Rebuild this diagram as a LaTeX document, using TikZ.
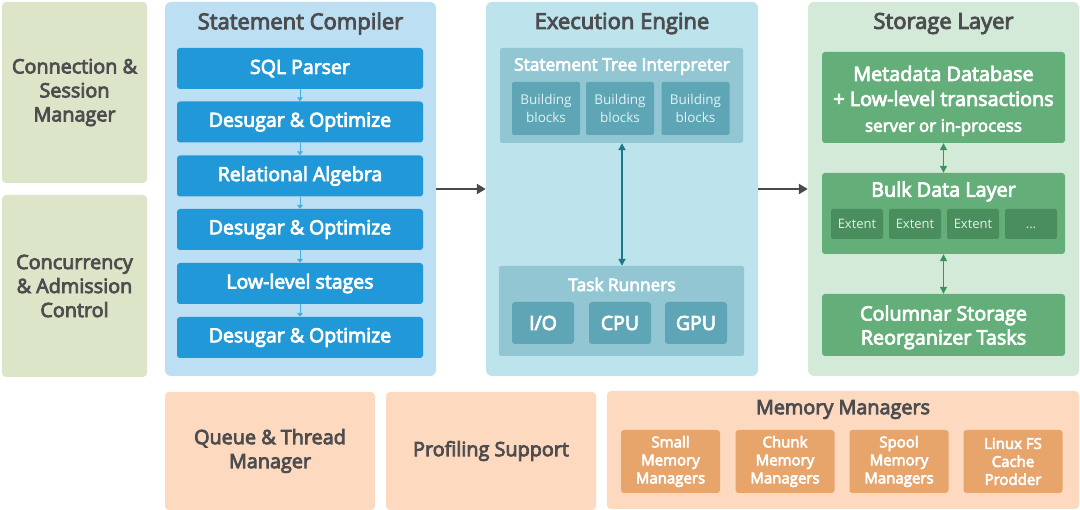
\documentclass[tikz,border=0pt]{standalone}
\usepackage{fontspec}
\setmainfont{Open Sans}
\newfontfamily\semi{Open Sans}[FakeBold=4]
\usepackage{tikz}
\usetikzlibrary{arrows.meta}
\usetikzlibrary{positioning}

\definecolor{sage}{HTML}{DCE5C7}
\definecolor{txtgrey}{HTML}{4D4D50}
\definecolor{compbg}{HTML}{BDDFF3}
\definecolor{compbox}{HTML}{2199D8}
\definecolor{compline}{HTML}{4AAEE3}
\definecolor{execbg}{HTML}{BDE3EC}
\definecolor{execmid}{HTML}{93C6D3}
\definecolor{execdark}{HTML}{5EA6B5}
\definecolor{exectext}{HTML}{E3F1F5}
\definecolor{execarrow}{HTML}{1B778C}
\definecolor{storbg}{HTML}{D3EAD9}
\definecolor{storbox}{HTML}{64AF79}
\definecolor{stordark}{HTML}{4A8E5D}
\definecolor{stortext}{HTML}{E4F0E7}
\definecolor{storarrow}{HTML}{379653}
\definecolor{peach}{HTML}{FDD9BF}
\definecolor{peachdark}{HTML}{E8A56B}
\definecolor{arrowgrey}{HTML}{4A4A4E}

\begin{document}
\begin{tikzpicture}[x=1pt,y=-1pt,
  sidebox/.style={fill=sage, rounded corners=4pt, inner sep=0pt, minimum width=145, text=txtgrey, align=center, font=\semi\fontsize{19.8}{24}\selectfont},
  layer/.style={rounded corners=6pt, inner sep=0pt, minimum height=374},
  layertitle/.style={text=txtgrey, font=\semi\fontsize{22}{26}\selectfont},
  stage/.style={fill=compbox, rounded corners=3pt, inner sep=0pt, minimum width=246, minimum height=41, text=white, font=\semi\fontsize{19.5}{22}\selectfont},
  stagearrow/.style={draw=compline, line width=1pt, -{Triangle[length=4pt,width=6pt]}},
  group/.style={inner sep=0pt, rounded corners=2pt},
  grouptitle/.style={text=white, font=\semi\fontsize{17.3}{20}\selectfont},
  block/.style={fill=execdark, rounded corners=2pt, inner sep=0pt, minimum width=68, minimum height=53, text=exectext, align=center, font=\fontsize{13.5}{18}\selectfont},
  runner/.style={fill=execdark, rounded corners=3pt, inner sep=0pt, minimum width=62, minimum height=42, text=white, font=\semi\fontsize{19.5}{22}\selectfont},
  storebox/.style={fill=storbox, rounded corners=3pt, inner sep=0pt, minimum width=243, text=white, align=center, font=\semi\fontsize{19.8}{24}\selectfont},
  extent/.style={fill=stordark, rounded corners=2pt, inner sep=0pt, minimum width=52, minimum height=30, text height=9pt, text depth=0pt, text=stortext, font=\fontsize{13}{16}\selectfont},
  bottombox/.style={fill=peach, rounded corners=4pt, inner sep=0pt, minimum height=118, text=txtgrey, align=center, font=\semi\fontsize{19.8}{24}\selectfont},
  memory/.style={fill=peachdark, rounded corners=3pt, inner sep=0pt, minimum width=99, minimum height=63, text=white, align=center, font=\semi\fontsize{15}{18}\selectfont},
  flow/.style={draw=arrowgrey, line width=2.5pt, -{Triangle[length=9pt,width=10pt]}},
  twoway/.style={line width=#1, {Triangle[length=7pt,width=7pt]}-{Triangle[length=7pt,width=7pt]}}]
\useasboundingbox (0,0) rectangle (1080,510);

% left column
\node[sidebox, minimum height=181] at (74.5,92.5) (conn) {Connection \&\\Session\\Manager};
\node[sidebox, minimum height=182] at (74.5,286) (conc) {Concurrency\\\& Admission\\Control};

% statement compiler
\node[layer, fill=compbg, minimum width=271] at (300.5,189) (comp) {};
\node[layertitle] at (300.5,23.5) (comptitle) {Statement Compiler};
\node[stage] at (300,68.5) (s1) {SQL Parser};
\node[stage] at (300,122) (s2) {Desugar \& Optimize};
\node[stage] at (300,176) (s3) {Relational Algebra};
\node[stage] at (300,229.5) (s4) {Desugar \& Optimize};
\node[stage] at (300,283.5) (s5) {Low-level stages};
\node[stage] at (300,337.5) (s6) {Desugar \& Optimize};
\foreach \a/\b in {s1/s2,s2/s3,s3/s4,s4/s5,s5/s6}
  \draw[stagearrow] (\a) -- (\b);

% execution engine
\node[layer, fill=execbg, minimum width=272] at (622,189) (exec) {};
\node[layertitle] at (622,23.5) (exectitle) {Execution Engine};
\node[group, fill=execmid, minimum width=243, minimum height=95] at (621.5,95.5) (interp) {};
\node[grouptitle] at (622,66.5) (interptitle) {Statement Tree Interpreter};
\node[block] at (546,108.5) (b1) {Building\\blocks};
\node[block] at (620,108.5) (b2) {Building\\blocks};
\node[block] at (695.5,108.5) (b3) {Building\\blocks};
\node[group, fill=execmid, minimum width=245, minimum height=90] at (621.5,311) (tasks) {};
\node[grouptitle] at (622,284.5) (taskstitle) {Task Runners};
\node[runner] at (543,323) (io) {I/O};
\node[runner] at (620,323) (cpu) {CPU};
\node[runner] at (696,323) (gpu) {GPU};
\draw[twoway=2.7pt, draw=execarrow] (interp.south -| 622,0) -- (tasks.north -| 622,0);

% storage layer
\node[layer, fill=storbg, minimum width=271] at (943.5,189) (stor) {};
\node[layertitle] at (943.5,23.5) (stortitle) {Storage Layer};
\node[storebox, minimum height=91] at (943.5,97.5) (meta) {};
\node[text=white, font=\semi\fontsize{19.8}{25}\selectfont, align=center] at (943.5,86) (metatext) {Metadata Database\\+ Low-level transactions};
\node[text=white, font=\semi\fontsize{17}{20}\selectfont] at (943.5,127.5) (metasub) {server or in-process};
\node[storebox, minimum height=81] at (943.5,213.5) (bulk) {};
\node[text=white, font=\semi\fontsize{19.8}{24}\selectfont] at (943.5,191.5) (bulktitle) {Bulk Data Layer};
\node[extent] at (857,224) (e1) {Extent};
\node[extent] at (915,224) (e2) {Extent};
\node[extent] at (973,224) (e3) {Extent};
\node[extent] at (1031,224) (e4) {...};
\node[storebox, minimum height=62, text depth=0pt] at (943.5,325) (colstore) {Columnar Storage\\Reorganizer Tasks};
\draw[twoway=1.2pt, draw=storarrow] (meta) -- (bulk);
\draw[twoway=1.2pt, draw=storarrow] (bulk) -- (colstore);

% main flow
\draw[flow] (comp.east |- 0,189) -- (exec.west |- 0,189);
\draw[flow] (exec.east |- 0,189) -- (stor.west |- 0,189);

% bottom row
\node[bottombox, minimum width=210] at (270,451) (queue) {Queue \& Thread\\Manager};
\node[bottombox, minimum width=210] at (491,451) (prof) {Profiling Support};
\node[bottombox, minimum width=472] at (843,450) (mem) {};
\node[text=txtgrey, font=\semi\fontsize{19.8}{24}\selectfont] at (843,409.5) (memtitle) {Memory Managers};
\node[memory] at (670.5,461.5) (m1) {Small\\Memory\\Managers};
\node[memory] at (785,461.5) (m2) {Chunk\\Memory\\Managers};
\node[memory] at (899,461.5) (m3) {Spool\\Memory\\Managers};
\node[memory] at (1013,461.5) (m4) {Linux FS\\Cache\\Prodder};
\end{tikzpicture}
\end{document}
